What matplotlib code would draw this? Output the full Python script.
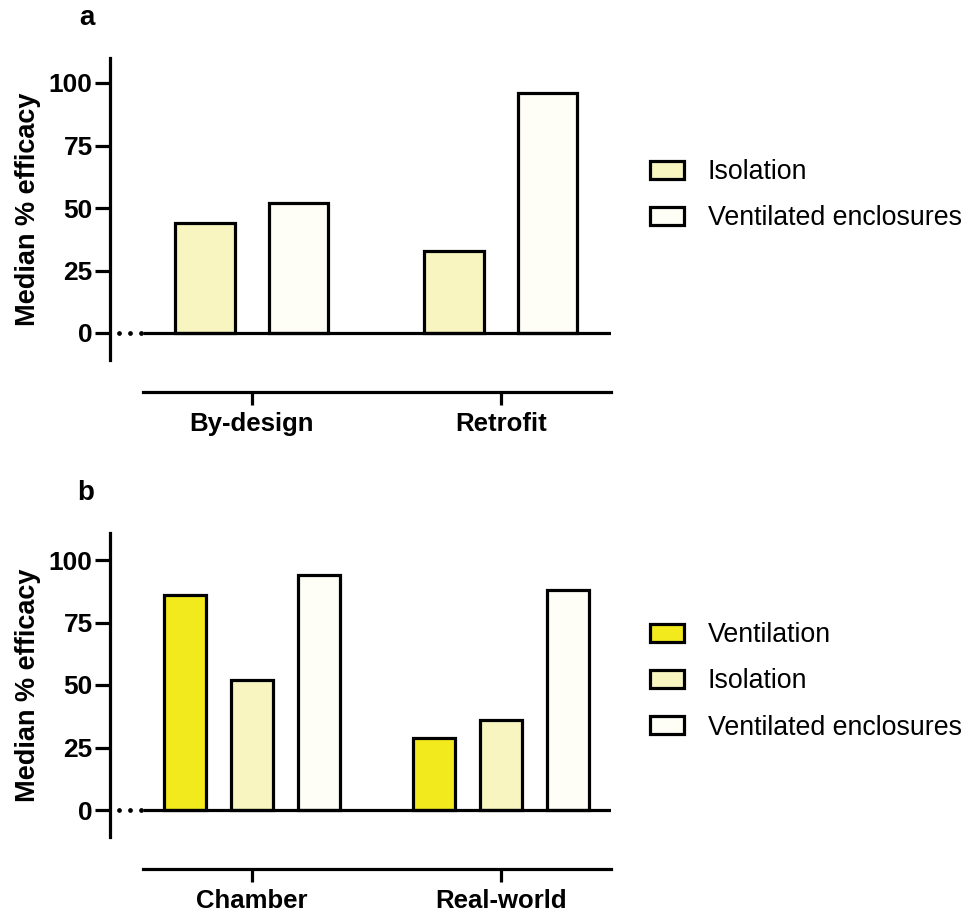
import numpy as np
import matplotlib
matplotlib.use('Agg')
from matplotlib.pyplot import figure

# values
groups_a = ['By-design', 'Retrofit']
isolation_a = [44, 33]
enclosures_a = [52, 96]

groups_b = ['Chamber', 'Real-world']
ventilation_b = [86, 29]
isolation_b = [52, 36]
enclosures_b = [94, 88]

COL_VENT = '#F2EA1C'
COL_ISO = '#F8F5C0'
COL_ENC = '#FEFEF6'

matplotlib.rcParams['font.family'] = ['Liberation Sans', 'DejaVu Sans']

W, H = 971, 918
LW = 2.3

def DrawPanel(fig, top_px, bottom_px, zero_px, hundred_px, groups, series, width, offsets, legend_top):
    ax = fig.add_axes([110/W, 1 - bottom_px/H, 501/W, (bottom_px - top_px)/H])
    px_per_unit = (zero_px - hundred_px) / 100.0
    ax.set_ylim((zero_px - bottom_px)/px_per_unit, (zero_px - top_px)/px_per_unit)
    ax.set_xlim(-0.570, 1.442)
    x = np.arange(len(groups))
    for (label, values, color), off in zip(series, offsets):
        ax.bar(x + off, values, width, color=color, edgecolor='black', linewidth=LW,
               label=label, zorder=3)
    # baseline, with the dotted break in front of it
    ax.plot([-0.438, 1.442], [0, 0], color='black', lw=LW, zorder=4, solid_capstyle='butt')
    ax.plot([-0.534, -0.490, -0.446], [0, 0, 0], 'o', color='black', ms=2.4, zorder=4)
    for s in ['top', 'right']:
        ax.spines[s].set_visible(False)
    ax.spines['left'].set_linewidth(LW)
    ax.spines['bottom'].set_linewidth(LW)
    ax.spines['bottom'].set_position(('outward', 23))
    ax.spines['bottom'].set_bounds(-0.438, 1.442)
    ax.set_yticks([0, 25, 50, 75, 100])
    ax.set_xticks(x)
    ax.set_xticklabels(groups)
    ax.tick_params(axis='y', length=10.5, width=LW, labelsize=19, pad=2)
    ax.tick_params(axis='x', length=9.5, width=LW, labelsize=18.5, pad=5)
    for t in ax.get_xticklabels() + ax.get_yticklabels():
        t.set_fontweight('bold')
    ax.set_ylabel('Median % efficacy', fontsize=19.5, fontweight='bold')
    ax.yaxis.set_label_coords(-0.138, 0.5)
    ax.legend(loc='upper left', bbox_to_anchor=(650/W, 1 - legend_top/H),
              bbox_transform=fig.transFigure, frameon=False, fontsize=19.3,
              handlelength=1.25, handleheight=0.65, handletextpad=0.9,
              labelspacing=0.76, borderpad=0, borderaxespad=0)
    return ax

fig = figure(figsize=(W/100, H/100), dpi=100)

DrawPanel(fig, 58, 360, 333, 83, groups_a,
          [('Isolation', isolation_a, COL_ISO), ('Ventilated enclosures', enclosures_a, COL_ENC)],
          0.24, [-0.188, 0.187], 159)
DrawPanel(fig, 533, 837, 810, 560, groups_b,
          [('Ventilation', ventilation_b, COL_VENT), ('Isolation', isolation_b, COL_ISO),
           ('Ventilated enclosures', enclosures_b, COL_ENC)],
          0.17, [-0.269, 0.0, 0.269], 622)

fig.text(79/W, 1 - 18/H, 'a', fontsize=20, fontweight='bold', va='center')
fig.text(77/W, 1 - 493/H, 'b', fontsize=20, fontweight='bold', va='center')

fig.savefig('out.png', dpi=100)
